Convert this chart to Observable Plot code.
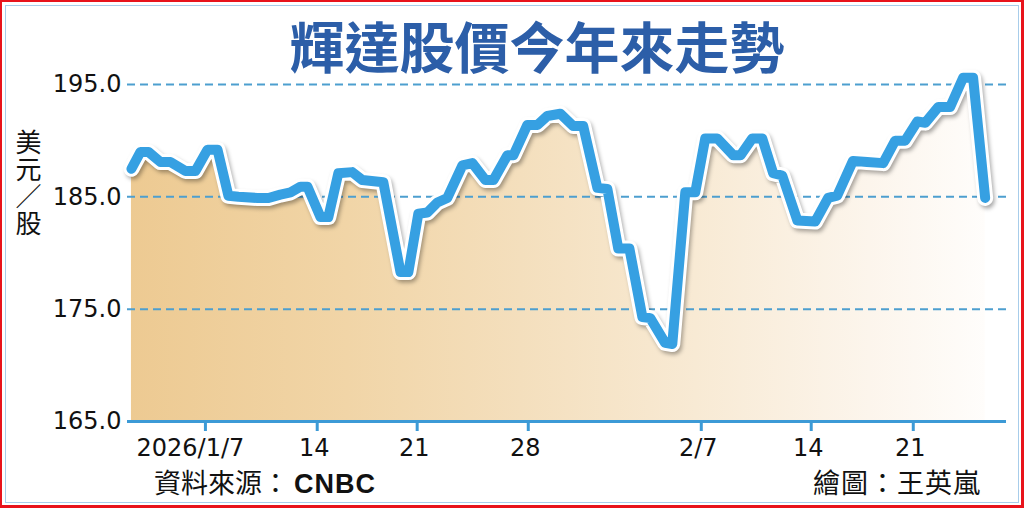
<!DOCTYPE html>
<html>
<head>
<meta charset="utf-8">
<script src="https://cdn.jsdelivr.net/npm/d3@7"></script>
<script src="https://cdn.jsdelivr.net/npm/@observablehq/plot@0.6"></script>
<style>
  html, body { margin: 0; padding: 0; background: #fff; }
  #wrap { position: relative; width: 1024px; height: 508px; overflow: hidden; background: #fff;
          font-family: "Noto Sans CJK TC", "Noto Sans", sans-serif; }
  #chart { position: absolute; left: 0; top: 0; }
  #frameRed { position: absolute; left: 0; top: 0; width: 1024px; height: 508px; box-sizing: border-box;
              border: 2px solid #e8131b; border-right-width: 3px; border-bottom-width: 3px; pointer-events: none; }
  #frameBlue { position: absolute; left: 5px; top: 5px; width: 1014px; height: 498px; box-sizing: border-box;
               border: 1.5px solid #a8cdea; pointer-events: none; }
  #title { position: absolute; left: 0; width: 1074px; top: 17px; text-align: center; font-size: 55px; line-height: 1;
           font-weight: 700; color: #2c5ea8; white-space: nowrap; }
  #ylabel { position: absolute; left: 14px; top: 129px; font-size: 26px; line-height: 28px; letter-spacing: 1px;
            writing-mode: vertical-rl; text-orientation: upright; color: #111; white-space: nowrap; }
  #source { position: absolute; left: 154px; top: 468px; font-size: 27px; line-height: 1; color: #111; white-space: nowrap; }
  #source b { font-family: "Liberation Sans", Arial, sans-serif; font-weight: 700; margin-left: 5px; letter-spacing: 1px; }
  #credit { position: absolute; right: 43px; top: 468px; font-size: 27px; line-height: 1; letter-spacing: 1px; color: #111; white-space: nowrap; }
</style>
</head>
<body>
<div id="wrap">
  <div id="chart"></div>
  <div id="title">輝達股價今年來走勢</div>
  <div id="ylabel">美元／股</div>
  <div id="source">資料來源：<b>CNBC</b></div>
  <div id="credit">繪圖：王英嵐</div>
  <div id="frameBlue"></div>
  <div id="frameRed"></div>
</div>
<script>
// Trading-session position (fractional) of each vertex of the drawn line
const sessions = [-0.23,0.16,0.50,1.02,1.45,2.10,2.53,3.05,3.48,3.95,4.38,5.20,5.68,6.19,6.63,7.06,7.36,7.92,8.26,8.69,
  9.29,9.72,10.63,11.37,11.71,12.14,12.53,12.96,13.39,14.04,14.47,15.03,15.38,15.98,16.24,16.84,17.28,17.70,18.26,18.82,
  19.25,19.86,20.29,20.76,21.24,21.80,22.14,22.78,23.09,23.65,24.08,24.51,25.03,25.72,26.03,26.54,26.97,27.44,27.83,28.48,
  29.25,29.81,30.20,30.88,31.49,32.18,32.70,33.13,33.65,34.00,34.56,35.07,35.63,36.06,36.58];
// NVIDIA share price, USD
const prices = [187.5,189.0,189.0,188.1,188.1,187.3,187.3,189.2,189.2,185.1,185.0,184.9,184.9,185.2,185.4,185.9,185.9,183.2,183.2,187.1,
  187.2,186.5,186.3,178.3,178.3,183.5,183.6,184.5,184.9,187.8,188.0,186.5,186.5,188.7,188.7,191.4,191.4,192.2,192.4,191.3,
  191.3,185.8,185.7,180.4,180.4,174.3,174.2,172.0,171.9,185.4,185.4,190.2,190.2,188.7,188.7,190.2,190.2,187.1,186.9,182.9,
  182.8,184.9,185.1,188.2,188.1,188.0,190.0,190.0,191.7,191.6,193.0,193.0,195.6,195.6,184.9];
// x-axis ticks
const tickSessions = [2.96, 7.78, 12.09, 16.88, 24.34, 29.08, 33.48];
const tickLabels = ["2026/1/7", "14", "21", "28", "2/7", "14", "21"];
// y-axis ticks
const yTicks = [165, 175, 185, 195];
const gridValues = [175, 185, 195];
const baseValue = 165;

const data = sessions.map((s, i) => ({s, p: prices[i]}));
const labelOf = new Map(tickSessions.map((t, i) => [t, tickLabels[i]]));

const blue = "#36a0e2";
const axisBlue = "#3c9ad6";

const defsMark = () => {
  const defs = d3.create("svg:defs");
  const g = defs.append("linearGradient").attr("id", "fillGrad")
    .attr("gradientUnits", "userSpaceOnUse").attr("x1", 130).attr("x2", 1000).attr("y1", 0).attr("y2", 0);
  [[0, "#edca92"], [0.25, "#f1d5a7"], [0.45, "#f4dfbd"], [0.65, "#f8ead4"], [0.85, "#fcf5ec"], [1, "#fffefd"]]
    .forEach(([o, c]) => g.append("stop").attr("offset", o).attr("stop-color", c));
  const f = defs.append("filter").attr("id", "shd").attr("x", "-5%").attr("y", "-20%").attr("width", "110%").attr("height", "140%");
  f.append("feGaussianBlur").attr("stdDeviation", 2);
  return defs.node();
};

const plot = Plot.plot({
  width: 1024,
  height: 508,
  marginLeft: 127,
  marginRight: 18,
  marginTop: 84,
  marginBottom: 87,
  style: {background: "transparent", overflow: "visible", fontFamily: "DejaVu Sans, sans-serif"},
  x: {type: "linear", domain: [-0.4, 37.5]},
  y: {domain: [165, 195]},
  marks: [
    defsMark,
    Plot.areaY(data, {x: "s", y1: baseValue, y2: "p", fill: "url(#fillGrad)"}),
    Plot.ruleY(gridValues, {stroke: "#4d9fcf", strokeWidth: 2, strokeDasharray: "8,5"}),
    Plot.ruleY([baseValue], {stroke: axisBlue, strokeWidth: 3}),
    Plot.axisY(yTicks, {anchor: "left", tickSize: 0, tickPadding: 6, tickFormat: d3.format(".1f"),
      fontSize: 24, fill: "#111", label: null}),
    Plot.axisX(tickSessions, {anchor: "bottom", tickSize: 10, stroke: axisBlue, strokeWidth: 3, fill: "none", label: null}),
    Plot.axisX(tickSessions.slice(0, 1), {anchor: "bottom", tickSize: 0, tickPadding: 17, stroke: "none", dx: -15,
      tickFormat: d => labelOf.get(d), fontSize: 24, fill: "#111", label: null}),
    Plot.axisX(tickSessions.slice(1), {anchor: "bottom", tickSize: 0, tickPadding: 17, stroke: "none", dx: -3,
      tickFormat: d => labelOf.get(d), fontSize: 24, fill: "#111", label: null}),
    Plot.line(data, {x: "s", y: "p", stroke: "#000", strokeOpacity: 0.35, strokeWidth: 15, dx: 2, dy: 3,
      strokeLinejoin: "round", strokeLinecap: "round"}),
    Plot.line(data, {x: "s", y: "p", stroke: "#fff", strokeWidth: 16, strokeLinejoin: "round", strokeLinecap: "round"}),
    Plot.line(data, {x: "s", y: "p", stroke: blue, strokeWidth: 10, strokeLinejoin: "round", strokeLinecap: "round"})
  ]
});
const lines = plot.querySelectorAll('g[aria-label="line"]');
if (lines.length) lines[0].setAttribute("filter", "url(#shd)");
document.getElementById("chart").appendChild(plot);
</script>
</body>
</html>
